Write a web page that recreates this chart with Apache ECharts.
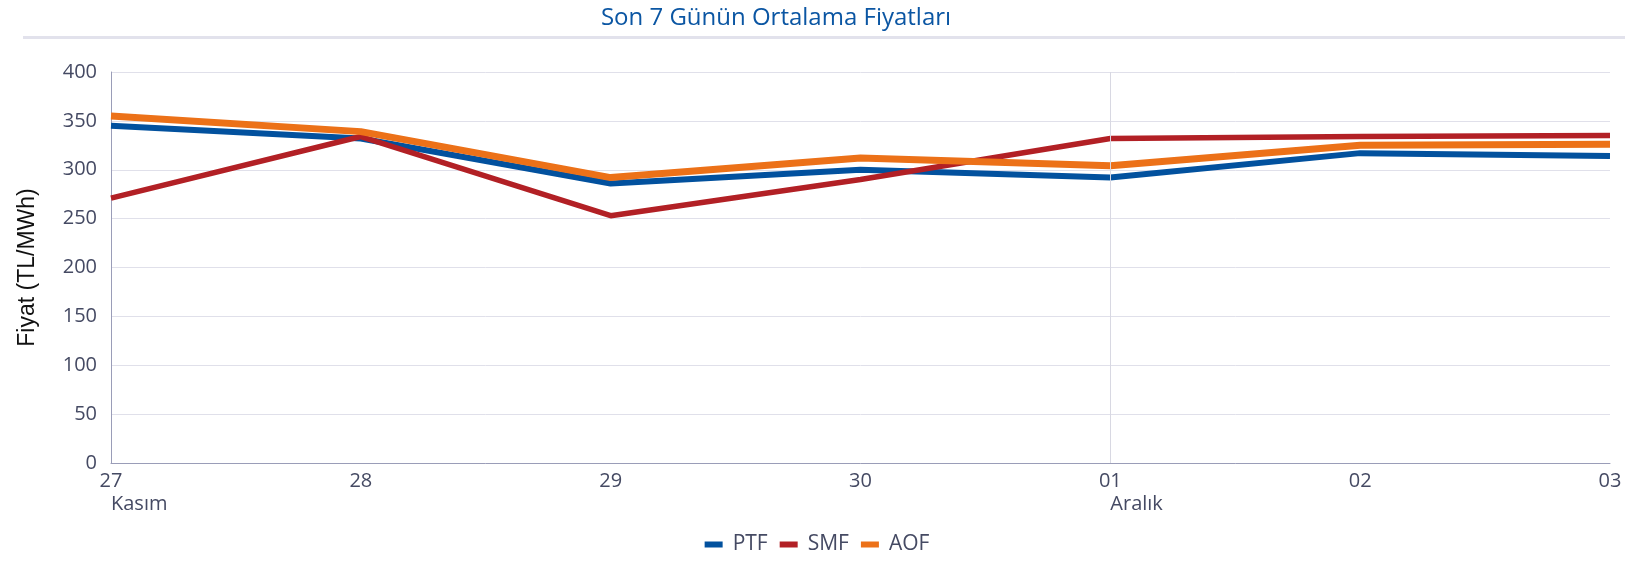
<!DOCTYPE html>
<html>
<head>
<meta charset="utf-8">
<script src="https://cdn.jsdelivr.net/npm/echarts@6/dist/echarts.min.js"></script>
<style>
  html, body { margin: 0; padding: 0; background: #fff; }
  #chart { width: 1634px; height: 562px; }
</style>
</head>
<body>
<div id="chart"></div>
<script>
// data
const days = ['27', '28', '29', '30', '01', '02', '03'];
const months = { '27': 'Kasım', '01': 'Aralık' };
const ptf = [345, 332, 286, 300, 292, 317, 314];
const smf = [271, 334, 253, 290, 332, 334, 335];
const aof = [355, 339, 292, 312, 304, 325, 326];
const yTicks = [0, 50, 100, 150, 200, 250, 300, 350, 400];

const labelColor = '#454a63';
const font = '"Open Sans", "Noto Sans", sans-serif';

let myChart = echarts.init(document.getElementById('chart'));
myChart.setOption({
  animation: false,
  title: {
    text: 'Son 7 Günün Ortalama Fiyatları',
    left: 771,
    textAlign: 'center',
    top: 1,
    textStyle: { color: '#0b56a3', fontSize: 24, fontWeight: 'normal', fontFamily: font }
  },
  graphic: [{
    type: 'rect',
    shape: { x: 23, y: 36, width: 1602, height: 3 },
    style: { fill: '#e2e2ec' },
    silent: true
  }],
  grid: { left: 111, right: 24, top: 72, bottom: 99 },
  legend: {
    bottom: 2,
    left: 'center',
    itemWidth: 18,
    itemHeight: 6,
    itemGap: 12,
    icon: 'rect',
    textStyle: { color: labelColor, fontSize: 21, fontFamily: font, padding: [0, 0, 0, 5] }
  },
  xAxis: {
    type: 'category',
    data: days,
    boundaryGap: false,
    axisLine: { lineStyle: { color: '#9a9db8', width: 1 } },
    axisTick: { show: false },
    axisLabel: {
      margin: 6,
      interval: 0,
      formatter: function (v) {
        if (months[v]) return '{d|' + v + '}\n{s|}{m|' + months[v] + '}';
        return '{d|' + v + '}';
      },
      rich: {
        d: { fontSize: 20, color: labelColor, fontFamily: font, align: 'center', lineHeight: 24 },
        s: { width: 70, align: 'left' },
        m: { fontSize: 20, color: labelColor, fontFamily: font, width: 70, align: 'left', lineHeight: 22 }
      }
    },
    splitLine: { show: false }
  },
  yAxis: {
    type: 'value',
    min: yTicks[0],
    max: yTicks[yTicks.length - 1],
    interval: 50,
    name: 'Fiyat (TL/MWh)',
    nameLocation: 'middle',
    nameGap: 72,
    nameTextStyle: { color: '#111', fontSize: 23, fontFamily: '"Liberation Sans", Arial, sans-serif' },
    axisLine: { show: true, lineStyle: { color: '#9a9db8', width: 1 } },
    axisTick: { show: false },
    axisLabel: { color: labelColor, fontSize: 20, fontFamily: font, margin: 14 },
    splitLine: { lineStyle: { color: '#e0e0ea', width: 1 } }
  },
  series: [
    {
      name: 'PTF', type: 'line', data: ptf,
      symbol: 'none',
      color: '#02519e',
      lineStyle: { width: 6, color: '#02519e' },
      markLine: {
        silent: true, symbol: 'none', label: { show: false },
        lineStyle: { color: '#d8d8e2', width: 1, type: 'solid' },
        data: [{ xAxis: '01' }]
      }
    },
    {
      name: 'SMF', type: 'line', data: smf,
      symbol: 'none',
      color: '#b22025',
      lineStyle: { width: 5.5, color: '#b22025' }
    },
    {
      name: 'AOF', type: 'line', data: aof,
      symbol: 'none',
      color: '#ec7118',
      lineStyle: { width: 7, color: '#ec7118' }
    }
  ]
});
</script>
</body>
</html>
